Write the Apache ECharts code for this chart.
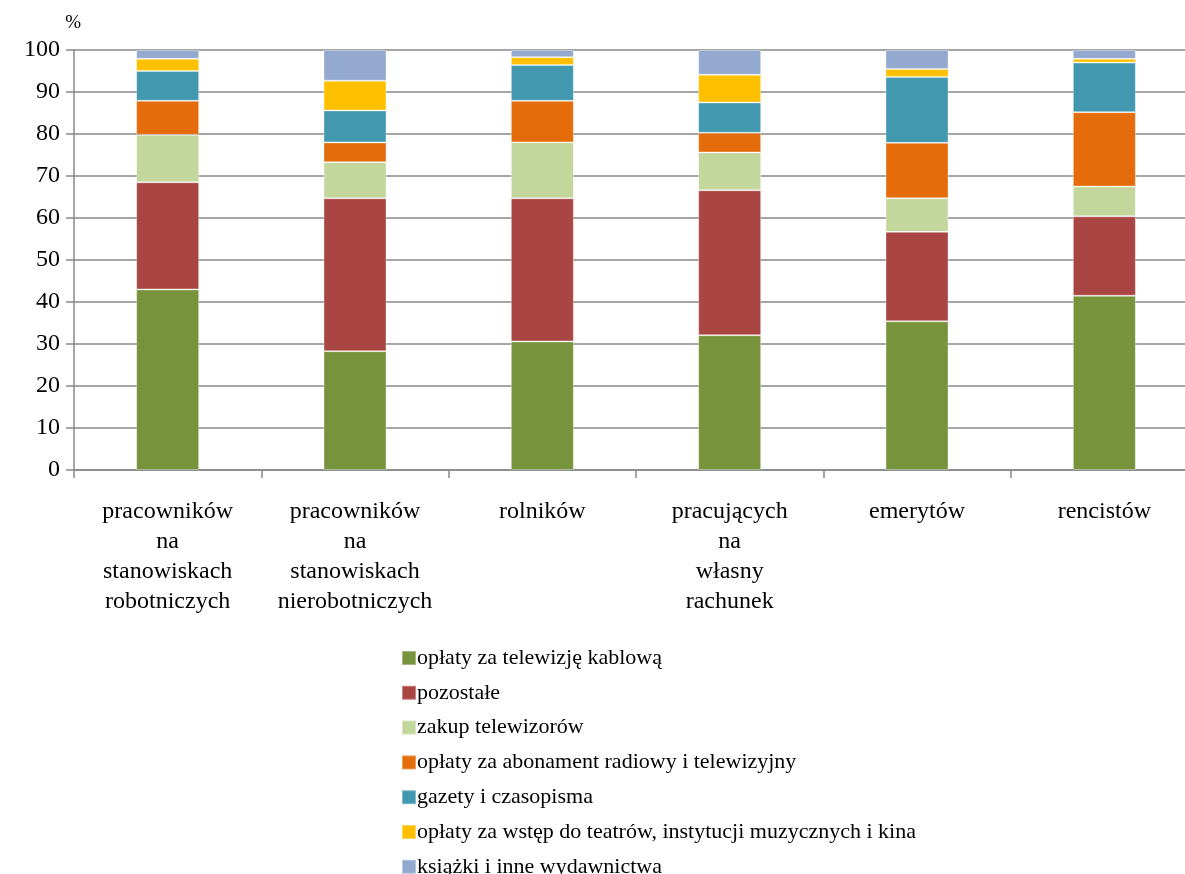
<!DOCTYPE html>
<html><head><meta charset="utf-8">
<script src="https://cdn.jsdelivr.net/npm/echarts@6/dist/echarts.min.js"></script>
<style>html,body{margin:0;padding:0;background:#fff;overflow:hidden;width:1185px;height:874px}#c{width:1198px;height:900px}</style>
</head><body><div id="c"></div>
<script>
const categories = ['pracowników\nna\nstanowiskach\nrobotniczych','pracowników\nna\nstanowiskach\nnierobotniczych','rolników','pracujących\nna\nwłasny\nrachunek','emerytów','rencistów'];
const seriesNames = ['opłaty za telewizję kablową','pozostałe','zakup telewizorów','opłaty za abonament radiowy i telewizyjny','gazety i czasopisma','opłaty za wstęp do teatrów, instytucji muzycznych i kina','książki i inne wydawnictwa'];
const kablowa    = [43.0, 28.3, 30.6, 32.1, 35.4, 41.5];
const pozostale  = [25.5, 36.4, 34.1, 34.5, 21.3, 18.9];
const telewizory = [11.3, 8.6, 13.3, 9.0, 8.0, 7.1];
const abonament  = [8.1, 4.7, 9.9, 4.7, 13.2, 17.7];
const gazety     = [7.1, 7.6, 8.5, 7.2, 15.7, 11.8];
const teatry     = [2.9, 7.1, 1.9, 6.6, 1.9, 0.9];
const ksiazki    = [2.1, 7.3, 1.7, 5.9, 4.5, 2.1];
const yTicks = [0,10,20,30,40,50,60,70,80,90,100];

const colors = ['#77933C','#A94643','#C3D69B','#E46C0A','#4198AF','#FFC000','#93A9CF'];
const dataSets = [kablowa, pozostale, telewizory, abonament, gazety, teatry, ksiazki];
const font = 'Liberation Serif';

const chart = echarts.init(document.getElementById('c'));
chart.setOption({
  animation: false,
  color: colors,
  grid: {left: 74, top: 50, right: 0, height: 420, containLabel: false},
  legend: {
    orient: 'vertical', left: 396, top: 642, itemGap: 12.8, height: 260,
    itemWidth: 14, itemHeight: 14, icon: 'rect',
    textStyle: {fontFamily: font, fontSize: 22, color: '#000', padding: [0,0,0,-4]},
    data: seriesNames
  },
  xAxis: {
    type: 'category', data: categories,
    axisLine: {lineStyle: {color: '#888', width: 1.5}},
    axisTick: {show: true, length: 8, lineStyle: {color: '#888', width: 1.5}},
    axisLabel: {fontFamily: font, fontSize: 24, color: '#000', lineHeight: 30, margin: 27, interval: 0}
  },
  yAxis: {
    type: 'value', min: 0, max: 100, interval: 10,
    name: '%', nameLocation: 'end', nameGap: 17,
    nameTextStyle: {fontFamily: font, fontSize: 19, color: '#000', align: 'right', padding: [0, -7, 0, 0]},
    axisLine: {show: true, lineStyle: {color: '#888', width: 1.5}},
    axisTick: {show: true, length: 8, lineStyle: {color: '#888', width: 1.5}},
    axisLabel: {fontFamily: font, fontSize: 24, color: '#000', margin: 14,
      formatter: v => yTicks.includes(v) ? String(v) : ''},
    splitLine: {lineStyle: {color: '#888', width: 1.5}}
  },
  series: dataSets.map((d, i) => ({
    name: seriesNames[i], type: 'bar', stack: 'all', data: d,
    barWidth: 63,
    itemStyle: {color: colors[i], borderColor: 'rgba(255,255,255,0.35)', borderWidth: 1}
  }))
});
</script></body></html>
